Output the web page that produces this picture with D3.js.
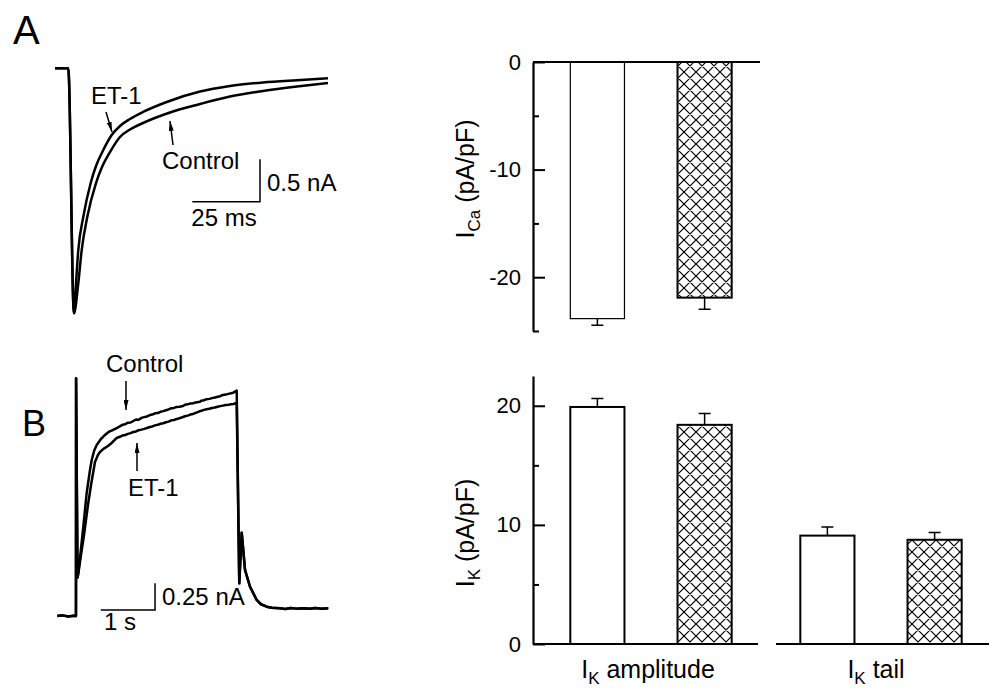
<!DOCTYPE html>
<html>
<head>
<meta charset="utf-8">
<script src="https://cdn.jsdelivr.net/npm/d3@7"></script>
<style>
  body { margin: 0; background: #fff; }
  svg { display: block; font-family: "Liberation Sans", Arial, Helvetica, sans-serif; }
</style>
</head>
<body>
<svg id="chart" width="993" height="692"></svg>
<script>
// ---- panel A traces: [time (ms), current (nA)]
const onsetA = [[0, 0], [4.9, 0], [7.0, -2.89]]
const controlA = [[8.6, -2.535], [9.86, -2.143], [11.93, -1.75], [15.14, -1.353], [17.36, -1.164],
  [20.31, -0.987], [24.0, -0.81], [27.7, -0.722], [32.5, -0.645], [42.47, -0.521], [53.55, -0.421],
  [64.62, -0.333], [76.81, -0.268], [89.37, -0.215], [100.81, -0.173]]
const et1A = [[7.75, -2.535], [8.6, -2.143], [10.46, -1.75], [13.18, -1.353], [15.14, -1.152],
  [17.84, -0.963], [20.94, -0.787], [24.0, -0.68], [27.7, -0.598], [32.5, -0.515], [41.25, -0.397],
  [53.55, -0.274], [64.62, -0.209], [76.81, -0.167], [89.37, -0.14], [100.81, -0.118]]

// ---- panel B traces: [time (s), current (nA)]
const onsetB = [[0, 0], [0.1, 0.006], [0.2, -0.004], [0.3, 0.003], [0.344, 0], [0.346, 2.226], [0.372, 0.36]]
const controlB = [[0.387, 0.40], [0.43, 0.60], [0.479, 0.836], [0.541, 1.152], [0.60, 1.36], [0.634, 1.461],
  [0.68, 1.55], [0.726, 1.601], [0.80, 1.655], [0.878, 1.695], [0.95, 1.725], [1.00, 1.735], [1.094, 1.760],
  [1.15, 1.775], [1.20, 1.79], [1.25, 1.795], [1.30, 1.81], [1.35, 1.812], [1.40, 1.826], [1.45, 1.84],
  [1.50, 1.838], [1.55, 1.855], [1.60, 1.862], [1.65, 1.868], [1.707, 1.882], [1.75, 1.886], [1.80, 1.898],
  [1.85, 1.90], [1.90, 1.912], [1.95, 1.918], [2.015, 1.929], [2.05, 1.935], [2.10, 1.945], [2.15, 1.948],
  [2.20, 1.958], [2.25, 1.96], [2.315, 1.966], [2.35, 1.978], [2.40, 1.982], [2.45, 1.99], [2.50, 1.992],
  [2.55, 2.0], [2.628, 2.007], [2.65, 2.015], [2.70, 2.02], [2.75, 2.03], [2.80, 2.033], [2.85, 2.04],
  [2.90, 2.045], [2.936, 2.051], [3.00, 2.058], [3.05, 2.07], [3.10, 2.073], [3.15, 2.08], [3.20, 2.085],
  [3.241, 2.091], [3.304, 2.110]]
const et1B = [[0.387, 0.40], [0.43, 0.55], [0.492, 0.758], [0.565, 1.039], [0.621, 1.227], [0.694, 1.442],
  [0.75, 1.51], [0.786, 1.536], [0.85, 1.565], [0.934, 1.592], [1.00, 1.62], [1.094, 1.667], [1.15, 1.678],
  [1.20, 1.69], [1.25, 1.695], [1.30, 1.705], [1.35, 1.712], [1.40, 1.723], [1.45, 1.728], [1.50, 1.74],
  [1.55, 1.745], [1.60, 1.752], [1.65, 1.76], [1.707, 1.770], [1.75, 1.775], [1.80, 1.785], [1.85, 1.79],
  [1.90, 1.80], [1.95, 1.805], [2.015, 1.816], [2.05, 1.82], [2.10, 1.832], [2.15, 1.835], [2.20, 1.845],
  [2.25, 1.852], [2.315, 1.863], [2.35, 1.87], [2.40, 1.876], [2.45, 1.886], [2.50, 1.892], [2.55, 1.902],
  [2.628, 1.919], [2.65, 1.92], [2.70, 1.93], [2.75, 1.935], [2.80, 1.94], [2.85, 1.948], [2.90, 1.952],
  [2.936, 1.957], [3.00, 1.965], [3.05, 1.97], [3.10, 1.975], [3.15, 1.978], [3.20, 1.982], [3.241, 1.985],
  [3.304, 1.994]]
const tailB = [[3.351, 0.306], [3.396, 0.78], [3.457, 0.431], [3.549, 0.274], [3.672, 0.150], [3.75, 0.11],
  [3.856, 0.087], [3.95, 0.078], [4.10, 0.072], [4.20, 0.066], [4.30, 0.075], [4.40, 0.069], [4.53, 0.073],
  [4.65, 0.067], [4.75, 0.074], [4.87, 0.069], [4.99, 0.072]]

// ---- bar charts (pA/pF)
const conditions = ['Control', 'ET-1']
const icaMean = [-23.85, -21.9]
const icaSem = [0.62, 1.08]
const ikGroups = ['amplitude', 'tail']
const ikMean = [[19.9, 18.4], [9.1, 8.75]]
const ikSem = [[0.72, 0.96], [0.72, 0.61]]
const icaTicks = [0, -10, -20]
const icaMinor = [-5, -15, -25]
const ikTicks = [0, 10, 20]
const ikMinor = [5, 15]

const svg = d3.select('#chart')
const defs = svg.append('defs')

const hatch = defs.append('pattern')
  .attr('id', 'xhatch')
  .attr('patternUnits', 'userSpaceOnUse')
  .attr('width', 12).attr('height', 12)
hatch.append('rect').attr('width', 12).attr('height', 12).attr('fill', '#fff')
hatch.append('path')
  .attr('d', 'M-3,-3L15,15M15,-3L-3,15M-3,9L3,15M9,-3L15,3M-3,3L3,-3M9,15L15,9')
  .attr('stroke', '#000').attr('stroke-width', 1.2).attr('fill', 'none')

defs.append('marker')
  .attr('id', 'arrow')
  .attr('viewBox', '0 0 10 5')
  .attr('refX', 10).attr('refY', 2.5)
  .attr('markerWidth', 10).attr('markerHeight', 5)
  .attr('markerUnits', 'userSpaceOnUse')
  .attr('orient', 'auto')
  .append('path').attr('d', 'M0,0L10,2.5L0,5Z').attr('fill', '#000')

// ---------- trace panels ----------
const xA = d3.scaleLinear().domain([0, 100]).range([55, 325.8])
const yA = d3.scaleLinear().domain([-3, 0]).range([322.7, 68.3])
const xB = d3.scaleLinear().domain([0, 5]).range([57.3, 328.8])
const yB = d3.scaleLinear().domain([0, 2.5]).range([616, 349])

const lineA = d3.line().x(d => xA(d[0])).y(d => yA(d[1])).curve(d3.curveMonotoneX)
const lineB = d3.line().x(d => xB(d[0])).y(d => yB(d[1]))

const traces = svg.append('g')
  .attr('fill', 'none').attr('stroke', '#000')
  .attr('stroke-width', 2.5).attr('stroke-linejoin', 'round')

traces.append('path').attr('d', lineA(onsetA.concat(controlA)))
traces.append('path').attr('d', lineA(onsetA.concat(et1A)))
traces.append('path').attr('d', lineB(onsetB.concat(controlB, tailB)))
traces.append('path').attr('d', lineB(onsetB.concat(et1B, tailB)))

// scale bars
function scaleBar(x, y, t0, t1, i0, i1) {
  svg.append('path')
    .attr('d', `M${x(t0)},${y(i0)}L${x(t1)},${y(i0)}L${x(t1)},${y(i1)}`)
    .attr('fill', 'none').attr('stroke', '#000').attr('stroke-width', 1.5)
}
scaleBar(xA, yA, 50.7, 75.7, -1.573, -1.073)
scaleBar(xB, yB, 0.8, 1.8, 0.056, 0.306)

const txt = (x, y, s, size, anchor) => svg.append('text')
  .attr('x', x).attr('y', y).attr('font-size', size)
  .attr('text-anchor', anchor || 'start').text(s)

txt(13, 44, 'A', 40)
txt(22, 436, 'B', 36)
txt(267, 191, '0.5 nA', 24)
txt(224, 226, '25 ms', 24, 'middle')
txt(162, 605, '0.25 nA', 24)
txt(120, 630, '1 s', 24, 'middle')

txt(91, 104, 'ET-1', 24)
txt(162, 169, 'Control', 24)
txt(106, 372, 'Control', 24)
txt(128, 496, 'ET-1', 24)

const arrow = (x1, y1, x2, y2) => svg.append('line')
  .attr('x1', x1).attr('y1', y1).attr('x2', x2).attr('y2', y2)
  .attr('stroke', '#000').attr('stroke-width', 1.5)
  .attr('marker-end', 'url(#arrow)')
arrow(106, 112, 112, 132)
arrow(173, 145, 170, 121)
arrow(126, 381, 126, 410)
arrow(137, 471, 137, 443)

// ---------- bar panels ----------
const axisX = 533
const xGroup = d3.scaleBand().domain(ikGroups).range([536, 996])
const xCond = d3.scaleBand().domain(conditions)
  .range([0, xGroup.bandwidth()]).paddingInner(0.495).paddingOuter(0.32)

const yCa = d3.scaleLinear().domain([-25, 0]).range([331, 62])
const yK = d3.scaleLinear().domain([0, 22.5]).range([644, 376])

function drawAxis(y, major, minor) {
  const g = svg.append('g').attr('transform', `translate(${axisX},0)`)
  g.call(d3.axisLeft(y).tickValues(major).tickSizeInner(-12).tickSizeOuter(0)
    .tickPadding(12).tickFormat(d => d < 0 ? '-' + Math.abs(d) : d))
  const gm = svg.append('g').attr('transform', `translate(${axisX},0)`)
  gm.call(d3.axisLeft(y).tickValues(minor).tickSizeInner(-6).tickSizeOuter(0).tickFormat(''))
  gm.select('path.domain').remove()
  g.selectAll('path.domain').attr('stroke-width', 2.2)
  svg.selectAll('.tick line').attr('stroke-width', 2)
  g.selectAll('.tick text').attr('font-size', 22).attr('fill', '#000')
    .attr('font-family', '"Liberation Sans", Arial, sans-serif')
}
drawAxis(yCa, icaTicks, icaMinor)
drawAxis(yK, ikTicks, ikMinor)

// I_Ca bars (hang down from zero)
const g0 = xGroup(ikGroups[0])
conditions.forEach((c, i) => {
  const cx = g0 + xCond(c) + xCond.bandwidth() / 2
  const yEnd = yCa(icaMean[i] - icaSem[i])
  svg.append('path')
    .attr('d', `M${cx},${yCa(icaMean[i])}L${cx},${yEnd}M${cx - 6},${yEnd}L${cx + 6},${yEnd}`)
    .attr('stroke', '#000').attr('stroke-width', 1.5).attr('fill', 'none')
})
svg.selectAll('rect.ica')
  .data(conditions)
  .join('rect')
  .attr('class', 'ica')
  .attr('x', d => g0 + xCond(d))
  .attr('y', yCa(0))
  .attr('width', xCond.bandwidth())
  .attr('height', (d, i) => yCa(icaMean[i]) - yCa(0))
  .attr('fill', (d, i) => i ? 'url(#xhatch)' : '#fff')
  .attr('stroke', '#000')
  .attr('stroke-width', (d, i) => i ? 2 : 1.2)
svg.append('line')
  .attr('x1', axisX).attr('x2', 760).attr('y1', yCa(0)).attr('y2', yCa(0))
  .attr('stroke', '#000').attr('stroke-width', 2.2)

// I_K bars
ikGroups.forEach((grp, gi) => {
  const gx = xGroup(grp)
  conditions.forEach((c, i) => {
    const x = gx + xCond(c)
    const w = xCond.bandwidth()
    const cx = x + w / 2
    const yEnd = yK(ikMean[gi][i] + ikSem[gi][i])
    svg.append('path')
      .attr('d', `M${cx},${yK(ikMean[gi][i])}L${cx},${yEnd}M${cx - 6},${yEnd}L${cx + 6},${yEnd}`)
      .attr('stroke', '#000').attr('stroke-width', 1.5).attr('fill', 'none')
    svg.append('rect')
      .attr('x', x).attr('y', yK(ikMean[gi][i]))
      .attr('width', w).attr('height', yK(0) - yK(ikMean[gi][i]))
      .attr('fill', i ? 'url(#xhatch)' : '#fff')
      .attr('stroke', '#000').attr('stroke-width', 2)
  })
  const x1 = gi === 0 ? axisX : gx + 10
  const x2 = gi === 0 ? gx + xGroup.bandwidth() - 8 : gx + xGroup.bandwidth() - 7
  svg.append('line')
    .attr('x1', x1).attr('x2', x2).attr('y1', yK(0)).attr('y2', yK(0))
    .attr('stroke', '#000').attr('stroke-width', 2.2)
})

// y titles with subscripts
function yTitle(cx, cy, sub) {
  const t = svg.append('text')
    .attr('transform', `translate(${cx},${cy}) rotate(-90)`)
    .attr('text-anchor', 'middle').attr('font-size', 25)
  t.append('tspan').text('I')
  t.append('tspan').attr('font-size', 17).attr('dy', 6).text(sub)
  t.append('tspan').attr('dy', -6).text(' (pA/pF)')
}
yTitle(474, 179, 'Ca')
yTitle(474, 533, 'K')

// category labels
function catLabel(cx, rest) {
  const t = svg.append('text')
    .attr('x', cx).attr('y', 678)
    .attr('text-anchor', 'middle').attr('font-size', 25)
  t.append('tspan').text('I')
  t.append('tspan').attr('font-size', 17).attr('dy', 6).text('K')
  t.append('tspan').attr('dy', -6).text(' ' + rest)
}
catLabel(xGroup(ikGroups[0]) + xGroup.bandwidth() / 2 - 3, 'amplitude')
catLabel(xGroup(ikGroups[1]) + xGroup.bandwidth() / 2 - 5, 'tail')
</script>
</body>
</html>
